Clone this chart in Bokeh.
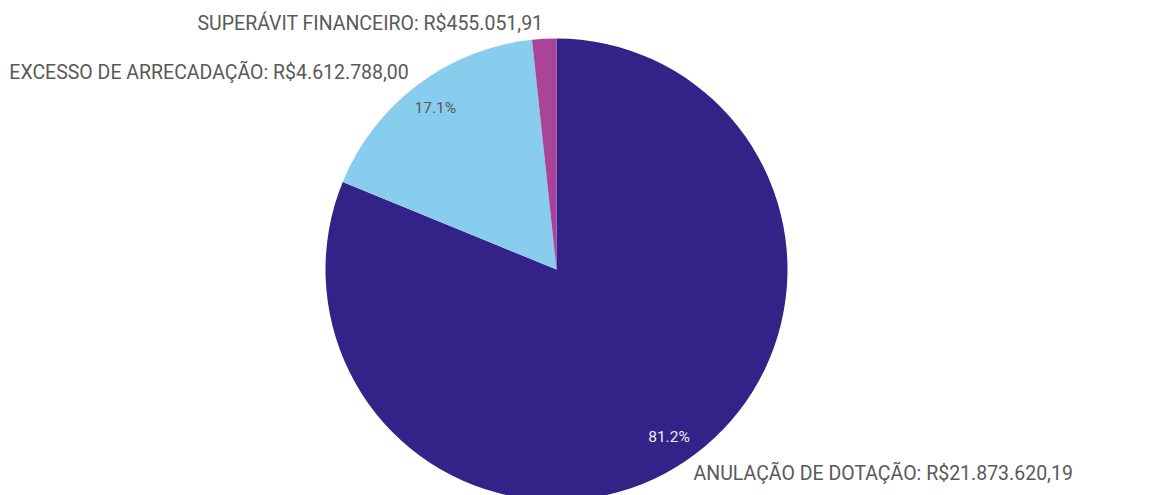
import math
from bokeh.plotting import figure
from bokeh.models import ColumnDataSource
from bokeh.core.properties import value
from bokeh.embed import file_html
from bokeh.resources import INLINE

categories = ["ANULAÇÃO DE DOTAÇÃO", "EXCESSO DE ARRECADAÇÃO", "SUPERÁVIT FINANCEIRO"]
values = [21873620.19, 4612788.00, 455051.91]
value_labels = ["R$21.873.620,19", "R$4.612.788,00", "R$455.051,91"]
colors = ["#332288", "#88CCEE", "#AA4499"]
pct_colors = ["#EEEEEE", "#595959", None]

W, H = 1160, 495
cx, cy, r = 556, 226, 231

total = sum(values)
starts, ends, mids = [], [], []
acc = 0.0
for v in values:
    a0 = acc / total * 2 * math.pi
    acc += v
    a1 = acc / total * 2 * math.pi
    starts.append(math.pi / 2 - a0)
    ends.append(math.pi / 2 - a1)
    mids.append((a0 + a1) / 2)

p = figure(width=W, height=H, x_range=(0, W), y_range=(0, H),
           output_backend="svg", toolbar_location=None, min_border=0)
p.axis.visible = False
p.grid.visible = False
p.outline_line_color = None

src = ColumnDataSource(dict(start=starts, end=ends, color=colors))
p.wedge(x=cx, y=cy, radius=r, start_angle="start", end_angle="end",
        direction="clock", fill_color="color", line_color=None, source=src)

font = value("Roboto")
# percentage labels
for i, v in enumerate(values):
    frac = v / total
    if pct_colors[i] is None:
        continue
    rr = 0.874 * r
    x = cx + rr * math.sin(mids[i])
    y = cy + rr * math.cos(mids[i])
    p.text(x=[x], y=[y], text=[f"{frac*100:.1f}%"], text_font=font,
           text_font_size="15.5px", text_color=pct_colors[i],
           text_align="center", text_baseline="middle")

# outer labels
for i, v in enumerate(values):
    rr = 1.065 * r
    x = cx + rr * math.sin(mids[i])
    y = cy + rr * math.cos(mids[i])
    right = math.sin(mids[i]) >= 0
    p.text(x=[x], y=[y], text=[f"{categories[i]}: {value_labels[i]}"],
           text_font=font, text_font_size="19.5px", text_color="#595959",
           text_align="left" if right else "right", text_baseline="middle")

open("out.html", "w").write(file_html(p, INLINE))
